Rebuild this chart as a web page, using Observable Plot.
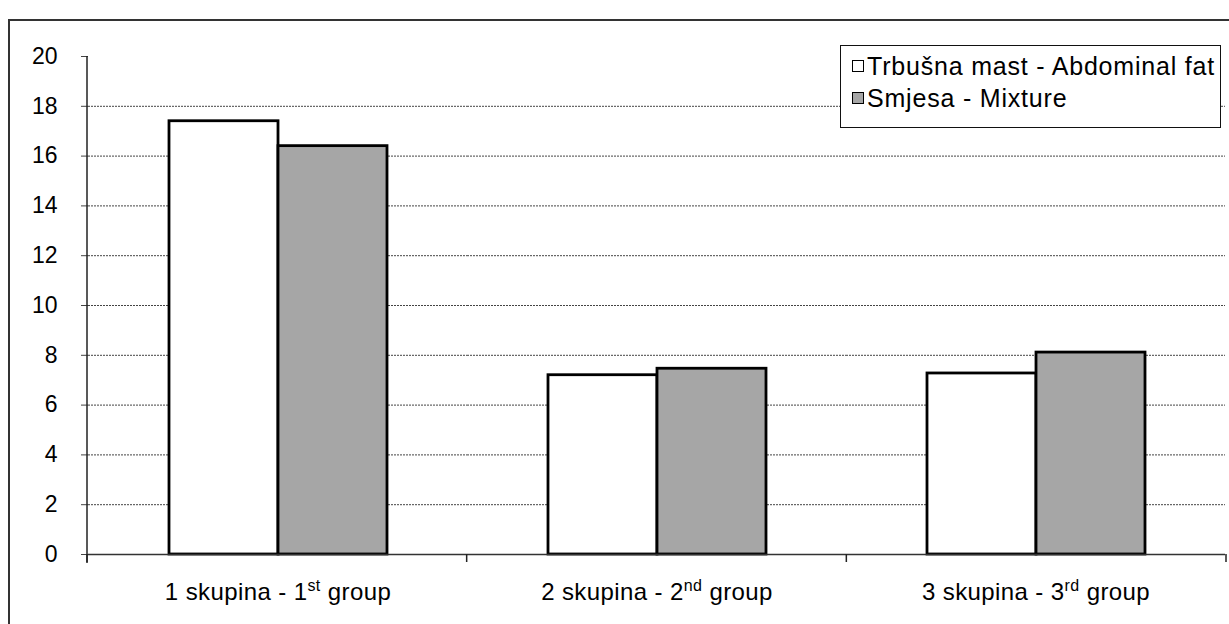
<!DOCTYPE html>
<html>
<head>
<meta charset="utf-8">
<script src="https://cdn.jsdelivr.net/npm/d3@7"></script>
<script src="https://cdn.jsdelivr.net/npm/@observablehq/plot@0.6"></script>
<style>
  html, body { margin: 0; padding: 0; background: #fff; }
  #wrap { position: relative; width: 1229px; height: 624px; overflow: hidden; font-family: "Liberation Sans", Arial, sans-serif; }
  #frame { position: absolute; left: 8px; top: 19px; width: 1300px; height: 700px; border-left: 2px solid #333; border-top: 2px solid #333; }
  #chart { position: absolute; left: 0; top: 0; }
  #legend { position: absolute; left: 840px; top: 45px; width: 381px; height: 83px; box-sizing: border-box; border: 1.5px solid #111; background: #fff; }
  .row { position: absolute; left: 11px; height: 30px; display: flex; align-items: center; font-size: 25px; letter-spacing: 0.8px; color: #000; white-space: nowrap; }
  .sw { width: 12px; height: 12px; border: 1.3px solid #000; box-sizing: border-box; margin-right: 3px; }
</style>
</head>
<body>
<div id="wrap">
  <div id="frame"></div>
  <div id="chart"></div>
  <div id="legend"></div>
</div>
<script>
// ---- data ----
const groups = ["1 skupina - 1st group", "2 skupina - 2nd group", "3 skupina - 3rd group"];
const series = ["Trbušna mast - Abdominal fat", "Smjesa - Mixture"];
const abdominalFat = [17.4, 7.2, 7.27];
const mixture = [16.4, 7.46, 8.11];
const yTicks = [0, 2, 4, 6, 8, 10, 12, 14, 16, 18, 20];
const seriesColors = ["#ffffff", "#a6a6a6"];

const data = groups.flatMap((g, i) => [
  {group: g, series: series[0], value: abdominalFat[i]},
  {group: g, series: series[1], value: mixture[i]}
]);
const gridTicks = yTicks.filter(d => d > 0 && d < 20);

const chart = Plot.plot({
  width: 1229,
  height: 624,
  marginLeft: 87,
  marginRight: 3,
  marginTop: 56,
  marginBottom: 70,
  style: {fontFamily: "'Liberation Sans', Arial, sans-serif", background: "transparent", color: "#000"},
  fx: {domain: groups, padding: 0, label: null},
  x: {domain: series, paddingInner: 0, paddingOuter: 0.735, axis: null},
  y: {domain: [0, 20], axis: null},
  color: {domain: series, range: seriesColors},
  marks: [
    Plot.ruleY(gridTicks, {stroke: "#444", strokeWidth: 1, strokeDasharray: "2,1"}),
    Plot.barY(data, {fx: "group", x: "series", y: "value", fill: "series", stroke: "#000", strokeWidth: 2.8}),
    Plot.ruleY([0], {stroke: "#333", strokeWidth: 1.5}),
    Plot.axisY(yTicks, {tickSize: 7, tickPadding: 24, fontSize: 23, label: null, stroke: "#444"}),
    Plot.axisFx({anchor: "bottom", tickSize: 0, tickPadding: 28, fontSize: 24, label: null})
  ]
});
document.getElementById("chart").appendChild(chart);

// ---- axis lines and boundary ticks from the library's scales ----
const svg = d3.select(chart);
const fxS = chart.scale("fx");
const yS = chart.scale("y");
const fxBand = d3.scaleBand().domain(fxS.domain).range(fxS.range).paddingInner(0).paddingOuter(0);
const yLin = d3.scaleLinear().domain(yS.domain).range(yS.range);
const y0 = yLin(0), yTop = yLin(20);
const edges = groups.map(g => fxBand(g)).concat([fxBand(groups[groups.length - 1]) + fxBand.bandwidth()]);
const g = svg.append("g").attr("stroke", "#222").attr("stroke-width", 1.5);
g.selectAll("line.edge").data(edges).join("line")
  .attr("x1", d => d).attr("x2", d => d).attr("y1", y0).attr("y2", y0 + 8);
g.append("line").attr("x1", edges[0]).attr("x2", edges[0]).attr("y1", yTop).attr("y2", y0 + 9);

// ---- superscripts in category labels ----
svg.selectAll("text").each(function() {
  const t = this.textContent;
  const m = t.match(/^(.*\d)(st|nd|rd)( group)$/);
  if (!m) return;
  const el = d3.select(this);
  el.text(null).attr("letter-spacing", "0.4px");
  el.append("tspan").text(m[1]);
  el.append("tspan").attr("font-size", 16).attr("dy", -9).text(m[2]);
  el.append("tspan").attr("dy", 9).text(m[3]);
});

// ---- legend ----
const legend = d3.select("#legend");
series.forEach((s, i) => {
  const row = legend.append("div").attr("class", "row").style("top", (i === 0 ? 5 : 37) + "px");
  row.append("div").attr("class", "sw").style("background", seriesColors[i]);
  row.append("span").text(s);
});
</script>
</body>
</html>
